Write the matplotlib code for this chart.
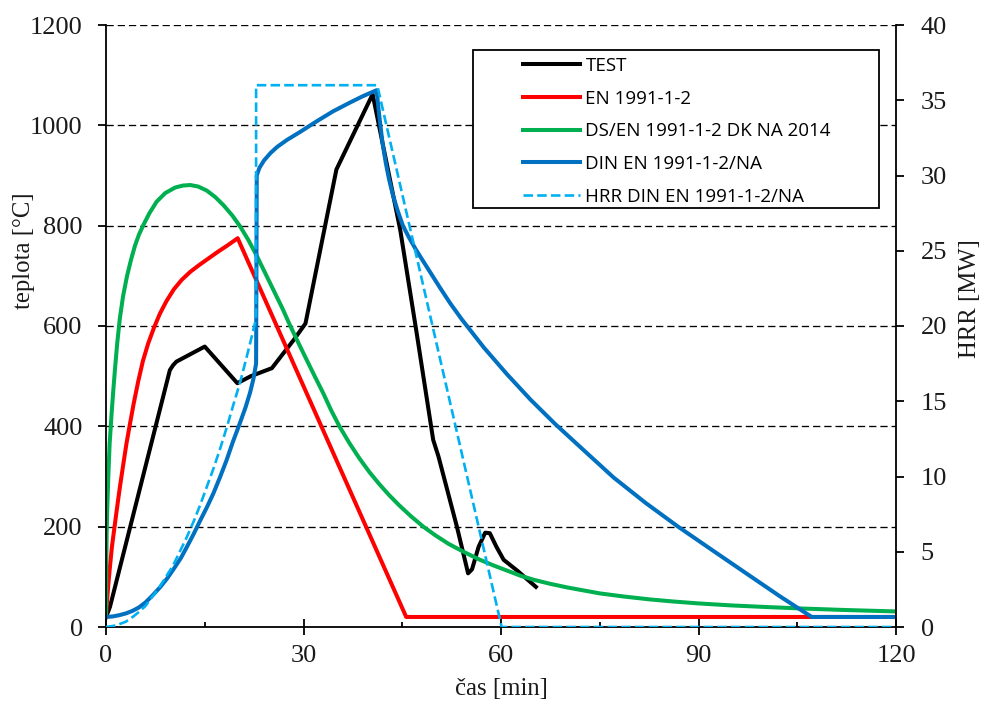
import matplotlib
matplotlib.use('Agg')
import matplotlib.pyplot as plt
from matplotlib.patches import Rectangle
from matplotlib.ticker import MultipleLocator

# ---- data ----
# TEST (measured temperature)
t_test = [0, 0.6, 9.7, 10.2, 10.7, 15.0, 19.95, 22.0, 25.2, 28.5, 30.3, 35.0, 40.5,
          44.7, 47.2, 49.7, 50.5, 53.3, 54.4, 55.0, 55.6, 56.6, 57.6, 58.3, 59.3, 60.4, 62.5, 65.3]
T_test = [20, 40, 512, 522, 529, 559, 486, 500, 516, 572, 605, 912, 1062,
          791, 585, 373, 340, 200, 140, 107, 115, 160, 188, 187, 160, 134, 112, 80]

# EN 1991-1-2 parametric curve
t_en = [0, 0.15, 0.35, 0.6, 0.9, 1.2, 1.6, 2.1, 2.6, 3.1, 3.6, 4.2, 4.9, 5.6, 6.4, 7.3,
        8.2, 9.2, 10.3, 11.5, 12.8, 14.2, 15.6, 17.0, 18.5, 20.0, 45.6, 120]
T_en = [20, 50, 85, 120, 160, 190, 230, 278, 322, 365, 402, 445, 490, 530, 565, 597,
        625, 650, 673, 692, 708, 722, 735, 748, 761, 775, 20, 20]

# DS/EN 1991-1-2 DK NA 2014
t_dk = [0, 0.04, 0.1, 0.2, 0.35, 0.55, 0.86, 1.1, 1.37, 1.7, 2.1, 2.6, 3.2, 3.8, 4.4, 5.0,
        5.7, 6.6, 7.7, 9.0, 10.5, 11.7, 12.8, 14.0, 15.3, 16.6, 17.9, 19.2, 20.4, 21.6,
        22.9, 24.2, 25.5, 26.8, 28.0, 29.2, 30.5, 31.7, 33.0, 34.2, 35.5, 37.0, 38.5, 40.0,
        41.5, 43.0, 44.5, 46.3, 48.2, 50.0, 52.0, 54.3, 56.8, 59.0, 61.0, 63.0, 65.0, 67.5,
        70.0, 72.5, 75.0, 78.5, 82.6, 86.0, 90.0, 95.0, 100.0, 105.4, 112.0, 120.0]
T_dk = [20, 120, 190, 240, 300, 365, 427, 470, 515, 565, 615, 660, 700, 732, 760, 782,
        802, 825, 848, 865, 876, 880, 881, 878, 870, 857, 840, 820, 798, 772,
        740, 705, 670, 635, 600, 567, 532, 500, 466, 432, 399, 366, 336, 309,
        285, 263, 243, 221, 200, 183, 166, 150, 134, 122, 112, 102, 94, 86,
        79, 73, 67, 61, 55, 51, 47, 43, 40, 37, 34, 31]

# DIN EN 1991-1-2/NA
t_din = [0, 1.0, 2.0, 3.0, 4.0, 5.0, 6.0, 7.0, 8.2, 9.3, 10.4, 11.4, 12.3, 13.3, 14.3,
         15.3, 16.3, 17.3, 18.3, 19.3, 20.3, 21.2, 21.9, 22.4, 22.8,
         22.9, 23.3, 24.0, 25.0, 26.0, 27.5, 29.5, 32.0, 34.5, 37.0, 39.0, 41.1,
         41.5, 42.0, 42.5, 43.0, 43.6, 44.3, 45.1, 46.0, 47.0, 47.9, 50.7, 52.3, 54.0,
         57.4, 60.9, 64.5, 68.2, 72.6, 77.1, 82.0, 86.9, 92.0, 97.8, 102.5, 107.2, 120]
T_din = [20, 21, 23.5, 27, 32, 39, 49, 62, 79, 97, 118, 138, 160, 185, 212,
         238, 266, 298, 332, 370, 405, 438, 468, 495, 525,
         900, 915, 930, 945, 957, 971, 987, 1008, 1028, 1045, 1058, 1070,
         1020, 965, 925, 892, 860, 830, 800, 777, 754, 735, 677, 645, 614,
         557, 504, 453, 405, 352, 298, 247, 200, 154, 102, 60, 20, 20]

# HRR DIN EN 1991-1-2/NA  [MW]
t_hrr = [0, 1.5, 3.0, 4.1, 5.0, 6.0, 7.0, 8.2, 9.2, 10.2, 11.2, 12.2, 13.3, 14.3, 15.3,
         16.3, 17.3, 18.3, 19.3, 20.4, 21.4, 22.2, 22.8, 22.8, 41.2, 50.7, 60.1, 120]
Q_hrr = [0, 0.1, 0.35, 0.68, 1.0, 1.4, 2.0, 2.7, 3.4, 4.1, 5.0, 5.9, 7.0, 8.1, 9.3,
         10.5, 11.8, 13.2, 14.7, 16.3, 18.0, 19.4, 20.5, 36, 36, 17.9, 0, 0]

labels = ['TEST', 'EN 1991-1-2', 'DS/EN 1991-1-2 DK NA 2014', 'DIN EN 1991-1-2/NA',
          'HRR DIN EN 1991-1-2/NA']
colors = ['black', '#FF0000', '#00B050', '#0070C0', '#00B0F0']

x_ticks = [0, 30, 60, 90, 120]
y_ticks = [0, 200, 400, 600, 800, 1000, 1200]
y2_ticks = [0, 5, 10, 15, 20, 25, 30, 35, 40]

serif = ['Liberation Serif', 'DejaVu Serif']
fs_tick = 19
fs_lab = 17.8
txt = '#1a1a1a'

fig = plt.figure(figsize=(9.84, 7.08), dpi=100)
ax = fig.add_axes([106 / 984, 81 / 708, 790 / 984, 602 / 708])
ax2 = ax.twinx()

lw = 2.9
ax.plot(t_test, T_test, color=colors[0], lw=lw, solid_joinstyle='round')
ax.plot(t_en, T_en, color=colors[1], lw=lw)
ax.plot(t_dk, T_dk, color=colors[2], lw=lw)
ax.plot(t_din, T_din, color=colors[3], lw=lw)
ax2.plot(t_hrr, Q_hrr, color=colors[4], lw=1.9, linestyle=(0, (3.6, 1.6)))

ax.set_xlim(0, 120)
ax.set_ylim(0, 1200)
ax2.set_ylim(0, 40)
ax.set_xticks(x_ticks)
ax.set_yticks(y_ticks)
ax2.set_yticks(y2_ticks)
ax.xaxis.set_minor_locator(MultipleLocator(15))

# grid lines
for v in y_ticks[1:]:
    ax.axhline(v, color='black', lw=0.95, linestyle=(0, (5.5, 3)), zorder=0.5)

for s in ['top', 'right']:
    ax.spines[s].set_visible(False)
for s in ['top', 'left', 'bottom']:
    ax2.spines[s].set_visible(False)
for sp in [ax.spines['left'], ax.spines['bottom'], ax2.spines['right']]:
    sp.set_linewidth(1.3)

ax.tick_params(axis='x', which='major', direction='inout', length=11.5, width=1.3, pad=7)
ax.tick_params(axis='x', which='minor', direction='in', length=3.5, width=1.3)
ax.tick_params(axis='y', direction='out', length=5.8, width=1.3, pad=11)
ax2.tick_params(axis='y', direction='out', length=5.8, width=1.3, pad=12)

for lab in ax.get_xticklabels() + ax.get_yticklabels() + ax2.get_yticklabels():
    lab.set_family(serif)
    lab.set_fontsize(fs_tick)
    lab.set_color(txt)

ax.set_xlabel('čas [min]', family=serif, fontsize=fs_lab, color=txt)
ax.set_ylabel('teplota [°C]', family=serif, fontsize=fs_lab, color=txt)
ax2.set_ylabel('HRR [MW]', family=serif, fontsize=fs_lab, color=txt)
ax.xaxis.set_label_coords(0.5, -0.085)
ax.yaxis.set_label_coords(-0.0905, 0.625)
ax2.yaxis.set_label_coords(1.08, 0.545)

# legend with its own box
box = Rectangle((473 / 984, 1 - 208 / 708), 406 / 984, 158 / 708, transform=fig.transFigure,
                facecolor='white', edgecolor='black', lw=1.3, zorder=5, clip_on=False)
ax2.add_patch(box)
handles = ax.get_lines()[:4] + ax2.get_lines()[:1]
leg = ax2.legend(handles, labels, loc='upper left', bbox_to_anchor=(523 / 984, 1 - 57 / 708),
                 bbox_transform=fig.transFigure, frameon=False, borderpad=0, borderaxespad=0,
                 handlelength=3.05, handletextpad=0.28, labelspacing=0.78,
                 prop={'family': ['Open Sans', 'DejaVu Sans'], 'size': 13.5})
leg.set_zorder(6)

fig.savefig('out.png', dpi=100)
